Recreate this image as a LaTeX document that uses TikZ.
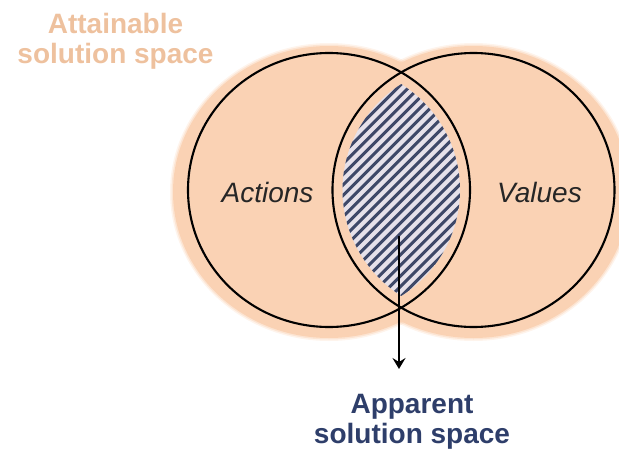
\documentclass[tikz,border=0pt]{standalone}
\usepackage{fontspec}
\setmainfont{Liberation Sans}
\usetikzlibrary{arrows.meta}
\definecolor{peach}{RGB}{250,210,180}
\definecolor{peachtext}{RGB}{238,193,158}
\definecolor{navy}{RGB}{46,62,106}
\definecolor{hatchline}{RGB}{62,72,104}
\definecolor{hatchbg}{RGB}{230,225,234}
\begin{document}
\begin{tikzpicture}[x=1pt,y=-1pt,
  ring/.style={draw=black, line width=2.1pt},
  setlabel/.style={font=\fontsize{28}{29}\selectfont\itshape, text=black!85, anchor=base, inner sep=0pt},
  caption/.style={font=\fontsize{28}{29.5}\selectfont\bfseries, align=center, anchor=base, inner sep=0pt},
  arrowline/.style={line width=1.9pt, -{Stealth[length=11pt,width=13pt,inset=4pt]}}]
\useasboundingbox (0,0) rectangle (619,450);
% soft peach edge
\foreach \d/\o in {3/0.25,1.5/0.45}{
  \fill[peach, opacity=\o] (329,192) ellipse [x radius={156pt+\d pt}, y radius={146pt+\d pt}];
  \fill[peach, opacity=\o] (473.5,192) ellipse [x radius={156pt+\d pt}, y radius={146pt+\d pt}];
}
\fill[peach] (329,192) ellipse [x radius=156pt, y radius=146pt];
\fill[peach] (473.5,192) ellipse [x radius=156pt, y radius=146pt];
% hatched overlap
\begin{scope}
  \clip (329,190) ellipse [x radius=131pt, y radius=127pt];
  \clip (473.5,190) ellipse [x radius=131pt, y radius=127pt];
  \fill[hatchbg] (300,60) rectangle (500,320);
  \foreach \k in {-34,...,6}{
    \draw[hatchline, line width=3pt] ({400+\k*10.6},340) -- ++(300,-300);
  }
\end{scope}
% circles
\draw[ring] (329,190) ellipse [x radius=141pt, y radius=137pt];
\draw[ring] (473.5,190) ellipse [x radius=141pt, y radius=137pt];
% labels
\node[setlabel] (actions) at (267.5,202) {Actions};
\node[setlabel] (values) at (539.5,202) {Values};
\node[caption, text=peachtext] (attainable) at (115.5,63) {Attainable\\solution space};
\node[caption, text=navy] (apparent) at (412,443) {Apparent\\solution space};
% arrow
\coordinate (arrowstart) at (399,236);
\coordinate (arrowend) at (399,369);
\draw[arrowline] (arrowstart) -- (arrowend);
\end{tikzpicture}
\end{document}
